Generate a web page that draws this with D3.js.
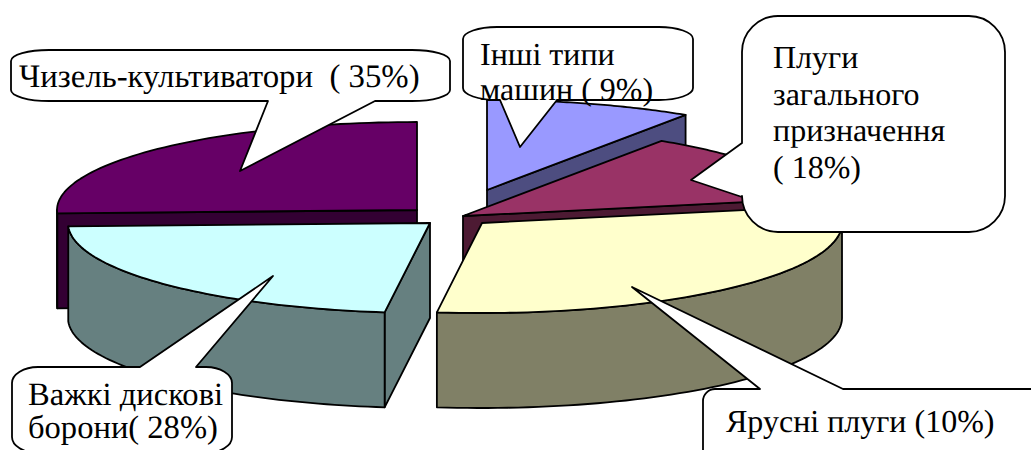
<!DOCTYPE html>
<html>
<head>
<meta charset="utf-8">
<script src="https://cdn.jsdelivr.net/npm/d3@7"></script>
<style>
html,body{margin:0;padding:0;background:#fff;overflow:hidden}
svg{display:block}
text{font-family:"Liberation Serif","Times New Roman",serif;font-size:32px;fill:#000;text-rendering:geometricPrecision}
</style>
</head>
<body>
<script>
// Data: clockwise from 12 o'clock, shares
const sliceNames = ["Інші типи машин","Плуги загального призначення","Ярусні плуги","Важкі дискові борони","Чизель-культиватори"];
const sliceShares = [9.3, 12.6, 30.1, 22.4, 25.6];
const topColors  = ["#9999ff","#993366","#ffffcc","#ccffff","#660066"];
const sideColors = ["#4d4d80","#4d1a33","#808066","#668080","#330033"];
const calloutLines = [
  ["Чизель-культиватори  ( 35%)"],
  ["Інші типи","машин ( 9%)"],
  ["Плуги","загального","призначення","( 18%)"],
  ["Важкі дискові","борони( 28%)"],
  ["Ярусні плуги (10%)"]
];

// Layout
const W = 1031, H = 450;
const depth = 95;
const apexes = [[487,190],[463,216],[482,223],[430,223],[417,210]];
const radiiX = [360,360,360,362,360];
const radiiY = [90,90,90,90,88];
const paintOrder = [0,4,1,2,3];
const callouts = [
  {box:[11,50,450,101], r:[38,11], edge:"bottom", tail:[[375,101],[240,171],[268,101]], tx:19, ty:[87], fs:32.8},
  {box:[463,27,693,100], r:[34,12], edge:"bottom", tail:[[557,100],[520,147],[500,100]], tx:480, ty:[65,100], fs:32},
  {box:[742,16,1005,232], r:[36,36], edge:"left", tail:[[742,197],[691,180],[742,143]], tx:773, ty:[68,105,141,178], fs:32},
  {box:[12,367,232,453], r:[26,16], edge:"top", tail:[[140,367],[273,276],[196,367]], tx:28, ty:[405,438], fs:32.6},
  {box:[703,389,1060,480], r:[12,12], edge:"top", tail:[[760,389],[632,287],[843,389]], tx:726, ty:[432], fs:32}
];

const svg = d3.select("body").append("svg").attr("width",W).attr("height",H);
const arcs = d3.pie().sort(null).value(d=>d)(sliceShares);
const line = d3.line();
const unit = d3.scaleLinear().domain([-1,1]).range([-1,1]);
const rim = (i,t,dz=0) => [apexes[i][0]+radiiX[i]*unit(Math.sin(t)), apexes[i][1]+radiiY[i]*unit(-Math.cos(t))+dz];
const samples = (a,b) => d3.range(0,61).map(k => a+(b-a)*k/60);

paintOrder.forEach(i => {
  const a0 = arcs[i].startAngle, a1 = arcs[i].endAngle;
  const g = svg.append("g").attr("stroke","#000").attr("stroke-width",1.8).attr("stroke-linejoin","round");
  const [ax,ay] = apexes[i];
  // straight cut faces that look towards the viewer
  const faces = [];
  if (Math.sin(a0) < -1e-6) faces.push(a0);
  if (Math.sin(a1) > 1e-6) faces.push(a1);
  faces.forEach(t => {
    g.append("path").attr("fill",sideColors[i])
      .attr("d", line([[ax,ay],rim(i,t),rim(i,t,depth),[ax,ay+depth]])+"Z");
  });
  // curved outer wall, front half only
  const w0 = Math.max(a0,Math.PI/2), w1 = Math.min(a1,Math.PI*1.5);
  if (w1 > w0) {
    const ts = samples(w0,w1);
    const pts = ts.map(t=>rim(i,t)).concat(ts.slice().reverse().map(t=>rim(i,t,depth)));
    g.append("path").attr("fill",sideColors[i]).attr("d", line(pts)+"Z");
  }
  // top face
  g.append("path").attr("fill",topColors[i])
    .attr("d", line([[ax,ay]].concat(samples(a0,a1).map(t=>rim(i,t))))+"Z");
});

function calloutPath(c){
  const [x0,y0,x1,y1] = c.box, [r,s] = c.r, p = d3.path(), k = 0.45;
  const tail = e => { if (c.edge===e) c.tail.forEach(q=>p.lineTo(q[0],q[1])); };
  p.moveTo(x0+r,y0);
  tail("top");
  p.lineTo(x1-r,y0);
  p.bezierCurveTo(x1-r*k,y0,x1,y0+s*k,x1,y0+s);
  p.lineTo(x1,y1-s);
  p.bezierCurveTo(x1,y1-s*k,x1-r*k,y1,x1-r,y1);
  tail("bottom");
  p.lineTo(x0+r,y1);
  p.bezierCurveTo(x0+r*k,y1,x0,y1-s*k,x0,y1-s);
  tail("left");
  p.lineTo(x0,y0+s);
  p.bezierCurveTo(x0,y0+s*k,x0+r*k,y0,x0+r,y0);
  p.closePath();
  return p.toString();
}

callouts.forEach((c,i) => {
  svg.append("path").attr("d",calloutPath(c)).attr("fill","#fff").attr("stroke","#000").attr("stroke-width",1.8).attr("stroke-linejoin","round");
});
callouts.forEach((c,i) => {
  calloutLines[i].forEach((s,j) => {
    svg.append("text").attr("x",c.tx).attr("y",c.ty[j]).style("font-size",c.fs+"px").style("white-space","pre").text(s);
  });
});
</script>
</body>
</html>
